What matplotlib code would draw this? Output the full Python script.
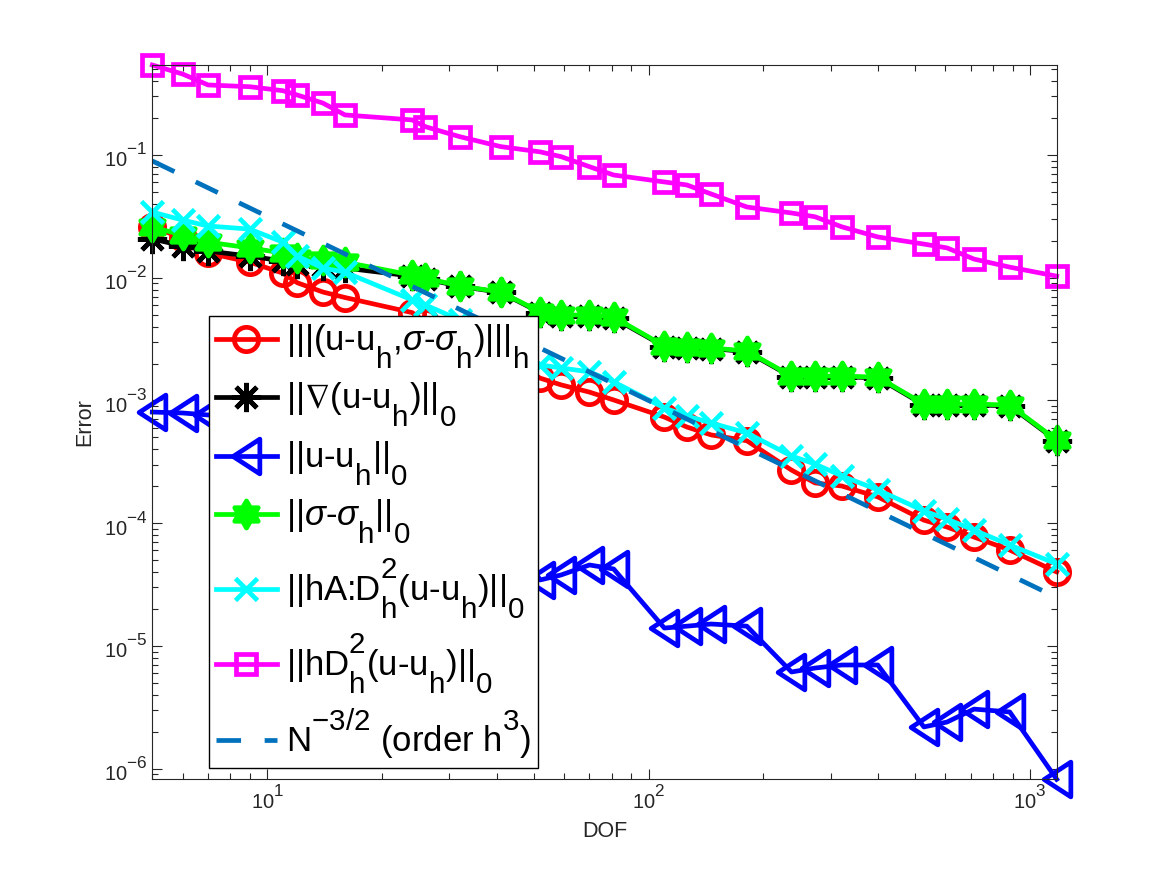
import matplotlib
matplotlib.use('Agg')
import matplotlib.pyplot as plt
import matplotlib._mathtext as mtx
from matplotlib.path import Path
from matplotlib.markers import MarkerStyle
import numpy as np

plt.rcParams['font.family'] = ['Liberation Sans', 'DejaVu Sans']
plt.rcParams['mathtext.fontset'] = 'custom'
plt.rcParams['mathtext.rm'] = 'Liberation Sans'
plt.rcParams['mathtext.it'] = 'Liberation Sans:italic'
plt.rcParams['mathtext.bf'] = 'Liberation Sans:bold'
plt.rcParams['mathtext.sf'] = 'Liberation Sans'
plt.rcParams['mathtext.default'] = 'regular'
plt.rcParams['mathtext.fallback'] = 'stixsans'

# MATLAB-like TeX scripts: larger and shifted further
mtx.SHRINK_FACTOR = 0.85
mtx.FontConstantsBase.sub1 = 0.95
mtx.FontConstantsBase.sub2 = 0.95
mtx.FontConstantsBase.sup1 = 1.15

# ---------------- data ----------------
dof = [5, 6, 7, 9, 11, 12, 14, 16, 24, 26, 32, 41, 52, 59, 70, 81,
       110, 126, 146, 181, 237, 273, 321, 399, 527, 606, 713, 885, 1175]

err_triple = [0.0259, 0.0211, 0.0159, 0.0134, 0.0109, 0.0091, 0.00765, 0.0069,
              0.0052, 0.00436, 0.00341, 0.00235, 0.00152, 0.00134, 0.00117, 0.00101,
              7.33e-4, 6.08e-4, 5.24e-4, 4.70e-4, 2.71e-4, 2.13e-4, 2.01e-4, 1.64e-4,
              1.06e-4, 9.31e-5, 7.72e-5, 6.05e-5, 4.01e-5]

err_grad = [0.0207, 0.0182, 0.0165, 0.0150, 0.0137, 0.0129, 0.0125, 0.0120,
            0.0103, 0.0098, 0.0085, 0.0076, 0.0052, 0.0049, 0.0049, 0.0047,
            0.00275, 0.0027, 0.00265, 0.0025, 0.00156, 0.00156, 0.00156, 0.00153,
            9.2e-4, 9.2e-4, 9.2e-4, 9.05e-4, 4.7e-4]

err_L2 = [8.05e-4, 7.91e-4, 7.62e-4, 7.20e-4, 3.27e-4, 3.15e-4, 2.98e-4, 2.82e-4,
          1.17e-4, 1.12e-4, 1.08e-4, 1.02e-4, 3.45e-5, 3.79e-5, 4.57e-5, 4.24e-5,
          1.40e-5, 1.45e-5, 1.51e-5, 1.45e-5, 6.14e-6, 6.61e-6, 7.00e-6, 7.00e-6,
          2.19e-6, 2.40e-6, 3.06e-6, 2.90e-6, 8.2e-7]

err_sigma = [0.0259, 0.0223, 0.0195, 0.0175, 0.0159, 0.0145, 0.0140, 0.0134,
             0.0105, 0.00995, 0.00857, 0.00765, 0.00526, 0.00497, 0.00497, 0.00478,
             0.00278, 0.00273, 0.00268, 0.00253, 0.00158, 0.00158, 0.00158, 0.00155,
             9.35e-4, 9.35e-4, 9.35e-4, 9.18e-4, 4.76e-4]

err_hAD2 = [0.0343, 0.0295, 0.0264, 0.0249, 0.0195, 0.0150, 0.0120, 0.0111,
            0.00659, 0.00600, 0.00453, 0.00283, 0.00195, 0.00184, 0.00171, 0.00142,
            8.69e-4, 7.48e-4, 6.56e-4, 5.44e-4, 3.53e-4, 3.04e-4, 2.43e-4, 1.87e-4,
            1.26e-4, 1.08e-4, 8.81e-5, 6.65e-5, 4.66e-5]

err_hD2 = [0.541, 0.457, 0.372, 0.360, 0.334, 0.308, 0.265, 0.212,
           0.193, 0.170, 0.141, 0.117, 0.106, 0.0969, 0.0803, 0.0687,
           0.0603, 0.0570, 0.0481, 0.0377, 0.0337, 0.0314, 0.0260, 0.0215,
           0.0188, 0.0175, 0.0142, 0.0122, 0.0103]

labels = [
    r'|||(u-u$_h$,$\mathit{\sigma}$-$\mathit{\sigma}_h$)|||$_h$',
    r'||$\nabla$(u-u$_h$)||$_0$',
    r'||u-u$_h$||$_0$',
    r'||$\mathit{\sigma}$-$\mathit{\sigma}_h$||$_0$',
    r'||hA:D$_h^2$(u-u$_h$)||$_0$',
    r'||hD$_h^2$(u-u$_h$)||$_0$',
    r'N$^{-3/2}$ (order h$^3$)',
]

# ---------------- figure ----------------
W, H = 1167, 875
fig = plt.figure(figsize=(W / 100, H / 100), dpi=100)
L, R, T, B = 152.3, 1056.7, 65.0, 779.3
ax = fig.add_axes([L / W, 1 - B / H, (R - L) / W, (B - T) / H])

lw = 3.4
tri_path = Path([(-1, 0), (1, 1.3), (1, -1.3), (-1, 0)],
                [Path.MOVETO, Path.LINETO, Path.LINETO, Path.CLOSEPOLY])
tri = MarkerStyle(tri_path, joinstyle='miter')
star_v = []
for k in range(6):
    a_out = np.deg2rad(90 + 60 * k)
    a_in = np.deg2rad(120 + 60 * k)
    star_v.append((np.cos(a_out), np.sin(a_out)))
    star_v.append((0.577 * np.cos(a_in), 0.577 * np.sin(a_in)))
star_v.append(star_v[0])
star_path = Path(star_v, [Path.MOVETO] + [Path.LINETO] * 11 + [Path.CLOSEPOLY])
hexa = MarkerStyle(star_path, joinstyle='miter')
sq = MarkerStyle('s', joinstyle='miter')

x = np.array(dof, dtype=float)
h = []
h += ax.loglog(x, err_triple, '-', color='red', lw=lw, marker='o', ms=17.5,
               mfc='none', mec='red', mew=lw, clip_on=False)
h += ax.loglog(x, err_grad, '-', color='black', lw=lw, marker=(8, 2, 0), ms=21,
               mec='black', mew=lw, clip_on=False)
h += ax.loglog(x, err_L2, '-', color='blue', lw=lw, marker=tri, ms=25,
               mfc='none', mec='blue', mew=lw, clip_on=False)
h += ax.loglog(x, err_sigma, '-', color=(0, 1, 0), lw=lw, marker=hexa, ms=19.5,
               mfc=(0, 1, 0), mec=(0, 1, 0), mew=lw, clip_on=False)
h += ax.loglog(x, err_hAD2, '-', color='cyan', lw=lw, marker='x', ms=16.5,
               mec='cyan', mew=lw, clip_on=False)
h += ax.loglog(x, err_hD2, '-', color='magenta', lw=lw, marker=sq, ms=15,
               mfc='none', mec='magenta', mew=lw, clip_on=False)
ref, = ax.loglog(x, x ** (-1.5), color=(0, 0.447, 0.741), lw=lw,
                 linestyle=(0, (5.2, 5.0)))
h.append(ref)

allv = np.concatenate([err_triple, err_grad, err_L2, err_sigma, err_hAD2, err_hD2])
ax.set_xlim(x.min(), x.max())
ax.set_ylim(allv.min(), allv.max())

ax.tick_params(which='both', direction='in', top=True, right=True,
               colors='0.15', labelsize=14.5, width=0.8)
ax.tick_params(which='major', length=7)
ax.tick_params(which='minor', length=4.3)
for s in ax.spines.values():
    s.set_color('0.15')
    s.set_linewidth(0.8)

ax.set_xlabel('DOF', fontsize=15.5, color='0.15', labelpad=6)
ax.set_ylabel('Error', fontsize=15.5, color='0.15', labelpad=6)

leg = ax.legend(h, labels, loc='lower left', bbox_to_anchor=(0.0627, 0.0158),
                borderaxespad=0, fontsize=25, frameon=True, fancybox=False,
                edgecolor='black', framealpha=1, handlelength=1.75,
                handletextpad=0.27, labelspacing=0.3, borderpad=0.2)
leg.get_frame().set_linewidth(1.0)
leg.set_zorder(10)

fig.savefig('out.png', dpi=100, facecolor='white')
